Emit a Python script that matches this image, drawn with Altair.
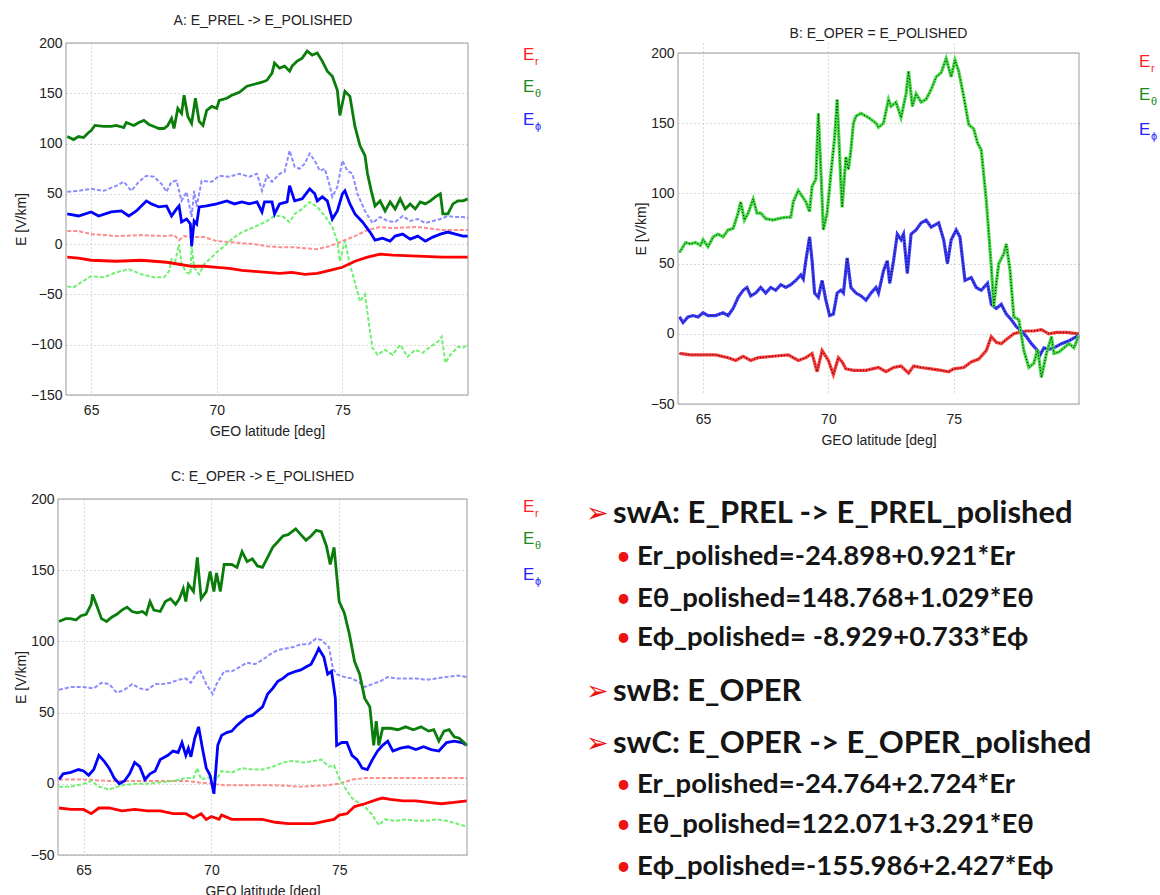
import altair as alt
import pandas as pd

# ---------------- data ----------------
LAT_DOMAIN = [64, 80]
LAT_TICKS = [65, 70, 75]

# Panel A: E_PREL (dashed, light) and polished (solid)
A_Eth_pol = [(64.05,107),(64.3,104),(64.5,107),(64.7,106),(64.9,111),(65.0,113),(65.15,118),(65.5,117),(65.8,117),
             (66.0,118),(66.3,116),(66.4,121),(66.7,118),(66.9,121),(67.1,123),(67.3,119),(67.5,117),(67.7,115),
             (67.9,115),(68.05,118),(68.2,125),(68.3,115),(68.45,135),(68.6,130),(68.7,148),(68.85,127),(69.0,120),
             (69.15,145),(69.3,122),(69.45,118),(69.6,133),(69.8,137),(70.0,135),(70.1,143),(70.4,145),(70.6,148),
             (70.9,151),(71.2,157),(71.5,159),(71.8,161),(72.0,163),(72.2,170),(72.3,180),(72.5,175),(72.7,177),
             (72.9,172),(73.0,177),(73.2,182),(73.4,185),(73.6,192),(73.8,188),(74.0,190),(74.2,182),(74.4,172),
             (74.6,167),(74.8,153),(74.9,128),(75.1,152),(75.3,147),(75.5,117),(75.7,98),(75.9,88),(76.0,70),
             (76.15,53),(76.3,38),(76.5,43),(76.7,33),(76.9,42),(77.1,35),(77.3,45),(77.5,35),(77.7,40),(77.9,35),
             (78.1,42),(78.3,40),(78.5,43),(78.7,47),(78.9,50),(79.0,30),(79.2,30),(79.4,40),(79.6,43),(79.8,43),(80.0,45)]
A_Eph_pol = [(64.05,30),(64.5,28),(65.0,32),(65.3,28),(65.8,32),(66.2,33),(66.5,28),(66.8,33),(67.0,38),(67.2,43),
             (67.4,40),(67.7,37),(68.0,38),(68.2,28),(68.4,35),(68.5,38),(68.6,22),(68.8,25),(68.95,20),(69.0,-2),
             (69.1,23),(69.2,20),(69.3,37),(69.6,38),(70.0,40),(70.4,43),(70.7,40),(71.0,42),(71.3,40),(71.6,42),
             (71.8,32),(71.9,42),(72.2,42),(72.3,30),(72.5,40),(72.8,42),(72.9,58),(73.1,43),(73.4,45),(73.7,55),
             (73.9,50),(74.0,43),(74.2,47),(74.4,43),(74.6,25),(74.8,33),(75.0,50),(75.1,53),(75.3,40),(75.5,30),
             (75.8,22),(76.1,12),(76.3,4),(76.6,6),(76.9,3),(77.1,8),(77.4,10),(77.7,5),(78.0,8),(78.3,3),(78.6,7),
             (78.9,10),(79.2,12),(79.5,10),(79.8,8),(80.0,8)]
A_Er_pol = [(64.05,-13),(64.5,-14),(65.0,-16),(66.0,-17),(67.0,-16),(68.0,-18),(68.5,-20),(69.0,-22),(69.5,-22),
            (70.0,-23),(70.5,-24),(71.0,-26),(71.5,-27),(72.0,-28),(72.5,-29),(73.0,-28),(73.5,-30),(74.0,-29),
            (74.5,-26),(75.0,-23),(75.5,-17),(76.0,-13),(76.5,-10),(77.0,-11),(78.0,-12),(79.0,-13),(80.0,-13)]
A_Eth_prel = [(64.05,-42),(64.3,-43),(64.6,-38),(65.0,-32),(65.5,-33),(66.0,-28),(66.5,-25),(67.0,-30),(67.5,-33),
              (67.9,-33),(68.1,-27),(68.2,-15),(68.35,-17),(68.5,0),(68.6,-20),(68.8,-28),(68.95,-30),(69.0,-2),
              (69.1,-23),(69.3,-30),(69.5,-20),(69.8,-13),(70.0,-8),(70.3,-2),(70.6,5),(71.0,12),(71.5,17),(72.0,23),
              (72.3,28),(72.6,28),(72.9,22),(73.1,30),(73.4,35),(73.7,42),(74.0,37),(74.3,28),(74.6,17),(74.8,3),
              (74.9,-17),(75.1,3),(75.3,-20),(75.5,-38),(75.7,-57),(75.9,-50),(76.1,-87),(76.2,-103),(76.4,-110),
              (76.7,-105),(77.0,-110),(77.3,-100),(77.6,-112),(77.9,-105),(78.2,-108),(78.5,-102),(78.8,-97),
              (78.95,-92),(79.1,-118),(79.3,-110),(79.6,-102),(79.8,-103),(80.0,-100)]
A_Eph_prel = [(64.05,52),(64.5,53),(65.0,55),(65.5,53),(66.0,58),(66.3,62),(66.6,53),(66.9,62),(67.2,68),(67.5,67),
              (67.8,60),(68.0,52),(68.2,62),(68.4,63),(68.6,43),(68.8,52),(69.0,27),(69.1,53),(69.2,37),(69.4,63),
              (69.8,62),(70.1,68),(70.5,67),(70.9,70),(71.3,67),(71.6,70),(71.8,53),(72.0,68),(72.2,62),(72.5,70),
              (72.7,72),(72.9,93),(73.1,77),(73.3,75),(73.5,80),(73.7,90),(73.9,83),(74.1,73),(74.3,75),(74.5,58),
              (74.6,47),(74.8,57),(75.0,83),(75.2,73),(75.4,70),(75.6,50),(75.9,33),(76.2,21),(76.5,27),(76.8,23),
              (77.1,22),(77.4,28),(77.7,23),(78.0,25),(78.3,21),(78.6,23),(78.9,25),(79.2,28),(79.5,27),(79.8,27),(80.0,26)]
A_Er_prel = [(64.05,13),(64.5,13),(65.0,10),(66.0,8),(67.0,9),(68.0,8),(68.3,9),(68.5,4),(68.7,8),(69.0,7),(69.5,7),
             (70.0,3),(70.5,2),(71.0,1),(71.5,0),(72.0,-2),(72.5,-3),(73.0,-3),(73.5,-4),(74.0,-5),(74.5,-2),
             (75.0,3),(75.5,8),(76.0,14),(76.5,17),(77.0,16),(78.0,17),(79.0,14),(80.0,14)]

# Panel B: E_OPER = E_POLISHED
B_Eth = [(64.06,58),(64.2,62),(64.3,65),(64.5,64),(64.7,65),(64.9,63),(65.0,67),(65.2,62),(65.4,69),(65.6,71),
         (65.8,69),(66.0,74),(66.2,75),(66.4,86),(66.5,94),(66.65,81),(66.8,86),(67.0,96),(67.15,86),(67.3,86),
         (67.5,82),(67.8,81),(68.0,82),(68.3,83),(68.5,83),(68.6,94),(68.8,102),(68.95,98),(69.1,94),(69.25,87),
         (69.35,105),(69.5,110),(69.6,157),(69.7,117),(69.8,74),(69.95,86),(70.1,114),(70.25,140),(70.35,167),
         (70.5,107),(70.55,90),(70.7,126),(70.8,117),(70.9,131),(71.0,150),(71.1,155),(71.3,157),(71.6,154),
         (71.9,150),(72.0,147),(72.2,150),(72.4,167),(72.5,162),(72.7,165),(72.9,154),(73.1,171),(73.2,187),
         (73.35,162),(73.5,171),(73.7,165),(73.9,167),(74.1,174),(74.3,183),(74.5,186),(74.7,196),(74.9,183),
         (75.05,195),(75.2,187),(75.4,169),(75.6,149),(75.8,146),(75.95,136),(76.1,131),(76.3,95),(76.5,48),
         (76.6,19),(76.7,36),(76.8,50),(77.0,57),(77.1,64),(77.25,45),(77.4,12),(77.6,10),(77.8,-12),(78.0,-24),
         (78.2,-21),(78.35,-11),(78.5,-31),(78.7,-14),(78.9,-2),(79.0,-14),(79.2,-13),(79.4,-10),(79.6,-7),
         (79.8,-10),(80.0,-1)]
B_Eph = [(64.06,12),(64.2,8),(64.4,12),(64.6,13),(64.8,12),(65.0,15),(65.2,13),(65.5,13),(65.8,15),(66.0,13),
         (66.2,18),(66.4,26),(66.6,31),(66.75,33),(66.9,27),(67.1,29),(67.3,33),(67.5,29),(67.7,33),(67.9,31),
         (68.1,35),(68.3,33),(68.5,35),(68.7,38),(68.9,42),(69.0,39),(69.1,52),(69.25,69),(69.35,52),(69.45,29),
         (69.6,26),(69.75,38),(69.9,24),(70.05,13),(70.2,14),(70.35,29),(70.5,31),(70.6,29),(70.75,54),(70.9,33),
         (71.1,29),(71.3,27),(71.5,24),(71.7,29),(71.9,33),(72.0,29),(72.2,45),(72.35,52),(72.45,36),(72.6,52),
         (72.75,71),(72.9,67),(73.0,71),(73.15,43),(73.3,71),(73.5,74),(73.7,79),(73.9,81),(74.1,76),(74.4,79),
         (74.6,67),(74.75,50),(74.9,67),(75.1,74),(75.25,69),(75.45,38),(75.7,40),(75.9,33),(76.1,31),(76.35,36),
         (76.5,21),(76.7,18),(76.9,21),(77.1,14),(77.3,10),(77.5,5),(77.7,2),(77.9,-2),(78.1,-7),(78.3,-11),
         (78.45,-15),(78.6,-10),(78.8,-11),(79.0,-10),(79.3,-7),(79.6,-5),(80.0,-1)]
B_Er = [(64.06,-14),(64.5,-15),(65.0,-15),(65.5,-15),(66.0,-17),(66.3,-19),(66.6,-16),(66.9,-19),(67.2,-17),
        (67.8,-16),(68.4,-15),(68.8,-19),(69.1,-17),(69.35,-14),(69.55,-27),(69.75,-12),(70.0,-19),(70.2,-29),
        (70.4,-17),(70.55,-20),(70.7,-25),(71.0,-26),(71.5,-26),(72.0,-24),(72.3,-27),(72.6,-24),(72.9,-23),
        (73.2,-28),(73.4,-23),(73.7,-24),(74.1,-25),(74.5,-26),(74.8,-27),(75.0,-25),(75.4,-24),(75.7,-20),
        (76.0,-18),(76.3,-12),(76.5,-2),(76.7,-6),(76.9,-7),(77.1,-4),(77.4,0),(77.6,1),(77.9,2),(78.2,2),
        (78.5,3),(78.8,0),(79.1,1),(79.5,1),(80.0,0)]

# Panel C: E_OPER (dashed, light) and polished (solid)
C_Eth_pol = [(64.04,114),(64.3,116),(64.5,116),(64.7,115),(64.9,118),(65.1,119),(65.3,126),(65.35,133),(65.5,126),
             (65.7,116),(65.9,114),(66.1,117),(66.3,119),(66.5,122),(66.7,124),(66.9,121),(67.1,120),(67.3,121),
             (67.45,119),(67.6,128),(67.75,122),(68.0,121),(68.2,128),(68.4,130),(68.6,126),(68.75,130),(68.9,137),
             (69.0,128),(69.1,140),(69.3,135),(69.45,159),(69.6,130),(69.8,135),(69.95,149),(70.1,135),(70.2,148),
             (70.35,135),(70.5,154),(70.8,154),(71.0,152),(71.2,163),(71.4,156),(71.6,158),(71.8,153),(72.0,152),
             (72.2,159),(72.4,166),(72.6,170),(72.8,174),(73.0,175),(73.3,179),(73.5,175),(73.7,171),(73.9,174),
             (74.1,178),(74.3,177),(74.5,167),(74.65,154),(74.8,166),(75.0,128),(75.2,120),(75.4,105),(75.6,86),
             (75.8,77),(76.0,60),(76.2,54),(76.35,27),(76.45,44),(76.55,27),(76.7,39),(77.0,39),(77.3,38),(77.6,40),
             (77.9,38),(78.2,40),(78.5,37),(78.7,38),(78.9,30),(79.1,37),(79.3,38),(79.5,33),(79.7,32),(80.0,27)]
C_Eph_pol = [(64.04,3),(64.2,7),(64.5,8),(64.8,10),(65.0,9),(65.2,6),(65.4,10),(65.6,20),(65.8,16),(66.0,11),
             (66.2,4),(66.4,0),(66.6,2),(66.8,7),(67.0,15),(67.2,12),(67.4,3),(67.6,7),(67.8,9),(68.0,17),(68.3,20),
             (68.5,23),(68.7,22),(68.85,29),(69.0,20),(69.1,25),(69.2,19),(69.35,32),(69.5,40),(69.65,25),(69.8,11),
             (69.95,6),(70.1,-7),(70.25,27),(70.4,34),(70.6,36),(70.8,37),(71.0,41),(71.2,44),(71.4,47),(71.6,48),
             (71.8,51),(72.0,54),(72.2,63),(72.4,67),(72.6,72),(72.8,74),(73.0,77),(73.3,79),(73.5,80),(73.7,82),
             (73.9,84),(74.1,91),(74.2,95),(74.4,89),(74.55,77),(74.7,79),(74.85,60),(74.9,27),(75.1,29),(75.3,29),
             (75.5,20),(75.7,17),(75.9,11),(76.1,10),(76.3,17),(76.5,23),(76.7,27),(76.9,30),(77.1,23),(77.4,25),
             (77.7,26),(78.0,24),(78.3,26),(78.6,24),(78.9,23),(79.2,29),(79.5,30),(79.8,29),(80.0,27)]
C_Er_pol = [(64.04,-17),(64.5,-18),(65.0,-18),(65.3,-21),(65.6,-17),(66.0,-17),(66.5,-19),(67.0,-18),(67.5,-19),
            (68.0,-19),(68.5,-21),(69.0,-21),(69.3,-24),(69.6,-21),(69.8,-25),(70.0,-23),(70.3,-25),(70.4,-22),
            (70.8,-25),(71.2,-25),(71.6,-25),(72.0,-25),(72.5,-27),(73.0,-28),(73.5,-28),(74.0,-28),(74.5,-26),
            (74.8,-25),(75.0,-22),(75.3,-21),(75.6,-16),(76.0,-14),(76.5,-11),(76.7,-10),(77.0,-11),(77.5,-12),
            (78.0,-12),(78.5,-13),(79.0,-14),(79.5,-13),(80.0,-12)]
C_Eth_oper = [(64.04,-2),(64.5,-2),(65.0,0),(65.3,2),(65.6,-2),(66.0,-4),(66.5,-1),(67.0,0),(67.5,0),(68.0,1),
              (68.5,2),(69.0,4),(69.3,4),(69.45,11),(69.6,3),(69.8,4),(70.0,5),(70.2,3),(70.4,9),(70.8,8),(71.2,11),
              (71.6,10),(72.0,10),(72.4,12),(72.8,15),(73.2,16),(73.6,15),(74.0,16),(74.3,17),(74.6,12),(74.8,13),
              (75.0,4),(75.2,-2),(75.5,-10),(75.8,-14),(76.0,-16),(76.3,-22),(76.55,-29),(76.8,-25),(77.2,-26),
              (77.6,-25),(78.0,-26),(78.4,-26),(78.8,-25),(79.2,-26),(79.6,-28),(80.0,-30)]
C_Eph_oper = [(64.04,66),(64.5,68),(65.0,68),(65.4,67),(65.7,71),(66.0,70),(66.3,64),(66.6,66),(66.9,70),(67.2,67),
              (67.5,66),(67.8,70),(68.1,70),(68.4,71),(68.7,73),(69.0,74),(69.2,71),(69.4,77),(69.55,80),(69.8,70),
              (70.05,63),(70.2,70),(70.5,79),(70.8,79),(71.1,82),(71.4,85),(71.7,84),(72.0,87),(72.3,91),(72.6,94),
              (72.9,95),(73.2,96),(73.5,98),(73.8,98),(74.1,102),(74.3,101),(74.6,96),(74.75,81),(74.9,77),(75.2,75),
              (75.5,74),(75.8,71),(76.0,68),(76.3,70),(76.6,72),(76.9,75),(77.2,74),(77.6,74),(78.0,74),(78.4,73),
              (78.8,74),(79.2,75),(79.6,76),(80.0,75)]
C_Er_oper = [(64.04,3),(65.0,3),(66.0,2),(67.0,2),(68.0,2),(69.0,2),(70.0,0),(70.5,-1),(71.5,-1),(72.5,-1),
             (73.5,-2),(74.5,-1),(75.0,0),(75.5,3),(76.0,4),(76.5,4),(77.5,4),(78.5,4),(79.5,4),(80.0,4)]

TITLES = ["A: E_PREL -> E_POLISHED", "B: E_OPER = E_POLISHED", "C: E_OPER -> E_POLISHED"]
X_TITLE = "GEO latitude [deg]"
Y_TITLE = "E [V/km]"
LEG_SUBS = ["r", "\u03b8", "\u03d5"]

HEADERS = ["swA: E_PREL -> E_PREL_polished", "swB: E_OPER", "swC: E_OPER -> E_OPER_polished"]
BULLETS_A = ["Er_polished=-24.898+0.921*Er", "E\u03b8_polished=148.768+1.029*E\u03b8",
             "E\u03d5_polished= -8.929+0.733*E\u03d5"]
BULLETS_C = ["Er_polished=-24.764+2.724*Er", "E\u03b8_polished=122.071+3.291*E\u03b8",
             "E\u03d5_polished=-155.986+2.427*E\u03d5"]

# ---------------- styling ----------------
FONT = "Liberation Sans"
LEG_COLORS = ["#ff2222", "#1e8c1e", "#2222ff"]
ONE = pd.DataFrame({"k": [0]})
BOX = "#9a9a9a"


def enc(ydom, yvals, xrange, yrange, yoffset):
    xs = dict(scale=alt.Scale(domain=LAT_DOMAIN, range=xrange, nice=False, zero=False),
              axis=alt.Axis(values=LAT_TICKS, title=X_TITLE, grid=True, gridDash=[1, 3], gridColor="#b4b4b4",
                            domain=False, ticks=False, labelFontSize=14, titleFontSize=14, labelFont=FONT,
                            titleFont=FONT, labelColor="#222", titleColor="#222", titleFontWeight="normal",
                            labelPadding=8, titlePadding=7))
    ys = dict(scale=alt.Scale(domain=ydom, range=yrange, nice=False, zero=False),
              axis=alt.Axis(values=yvals, title=Y_TITLE, grid=True, gridDash=[1, 3], gridColor="#b4b4b4",
                            domain=False, ticks=False, labelFontSize=14, titleFontSize=14, labelFont=FONT,
                            titleFont=FONT, labelColor="#222", titleColor="#222", titleFontWeight="normal",
                            labelPadding=4, titlePadding=2, offset=yoffset))
    return xs, ys


def panel(series, w, h, ydom, yvals, xrange, yrange, yoffset, leg_x, leg_y, title):
    xs, ys = enc(ydom, yvals, xrange, yrange, yoffset)
    layers = []
    for pairs, color, width, dash in series:
        kw = dict(color=color, strokeWidth=width, interpolate="linear")
        if dash:
            kw["strokeDash"] = dash
        layers.append(alt.Chart(pd.DataFrame(pairs, columns=["lat", "E"])).mark_line(**kw).encode(
            x=alt.X("lat:Q", **xs), y=alt.Y("E:Q", **ys)))
    # plot frame, drawn through the scales
    layers.append(alt.Chart(ONE).mark_rect(filled=False, stroke=BOX, strokeWidth=1).encode(
        x=alt.X(datum=LAT_DOMAIN[0], **xs), x2=alt.X2(datum=LAT_DOMAIN[1]),
        y=alt.Y(datum=ydom[0], **ys), y2=alt.Y2(datum=ydom[1])))
    for sub, col, yy in zip(LEG_SUBS, LEG_COLORS, leg_y):
        layers.append(alt.Chart(ONE).mark_text(text="E", color=col, fontSize=17, font=FONT, align="left",
                                               baseline="middle").encode(x=alt.value(leg_x), y=alt.value(yy)))
        layers.append(alt.Chart(ONE).mark_text(text=sub, color=col, fontSize=11, font=FONT, align="left",
                                               baseline="middle").encode(x=alt.value(leg_x + 12),
                                                                         y=alt.value(yy + 7)))
    return alt.layer(*layers).properties(width=w, height=h, title=title)


def title(txt, dy=0):
    return alt.TitleParams(text=txt, fontSize=14, font=FONT, fontWeight="normal", color="#222", anchor="middle",
                           offset=8, dy=dy)


LIGHT_R, LIGHT_B, LIGHT_G = "#ff8c8c", "#8c8cff", "#70f070"
SOLID_R, SOLID_B, SOLID_G = "#ff0000", "#0000ff", "#0a7d0a"
DASH = [4, 2]

# Panel A (frame starts 8 px right of the column origin)
chartA = panel([(A_Er_prel, LIGHT_R, 2, DASH), (A_Eph_prel, LIGHT_B, 2, DASH), (A_Eth_prel, LIGHT_G, 2, DASH),
                (A_Er_pol, SOLID_R, 2.8, None), (A_Eph_pol, SOLID_B, 2.8, None), (A_Eth_pol, SOLID_G, 2.8, None)],
               410, 352, [-150, 200], [-150, -100, -50, 0, 50, 100, 150, 200], [8, 410], [352, 0], -8,
               465, [12, 44, 77], title(TITLES[0]))

# Panel B (frame starts 10 px below the row origin)
seriesB = []
for pairs, col in [(B_Er, "#ff3c3c"), (B_Eph, "#3c3cff"), (B_Eth, "#46dc46")]:
    seriesB.append((pairs, col, 3.2, None))
    seriesB.append((pairs, "#000000", 1, [1, 2]))
chartB = panel(seriesB, 401, 361, [-50, 200], [-50, 0, 50, 100, 150, 200], [0, 401], [361, 10], 0,
               461, [19, 52, 87], title(TITLES[1], dy=6))

# Panel C
chartC = panel([(C_Er_oper, LIGHT_R, 2, DASH), (C_Eph_oper, LIGHT_B, 2, DASH), (C_Eth_oper, LIGHT_G, 2, DASH),
                (C_Er_pol, SOLID_R, 2.8, None), (C_Eph_pol, SOLID_B, 2.8, None), (C_Eth_pol, SOLID_G, 2.8, None)],
               409, 356, [-50, 200], [-50, 0, 50, 100, 150, 200], [0, 409], [356, 0], 0,
               465, [8, 40, 76], title(TITLES[2]))

# Text block
TFONT = "Lato"
text_layers = []
rows = [("h", HEADERS[0], 15), ("b", BULLETS_A[0], 58), ("b", BULLETS_A[1], 100), ("b", BULLETS_A[2], 139),
        ("h", HEADERS[1], 193), ("h", HEADERS[2], 245), ("b", BULLETS_C[0], 286), ("b", BULLETS_C[1], 326),
        ("b", BULLETS_C[2], 368)]
for kind, txt, yy in rows:
    if kind == "h":
        text_layers.append(alt.Chart(ONE).mark_text(text="\u27a2", color="#ee1111", fontSize=27, font="DejaVu Sans",
                                                    align="left", baseline="middle")
                           .encode(x=alt.value(0), y=alt.value(yy)))
        text_layers.append(alt.Chart(ONE).mark_text(text=txt, color="#151515", fontSize=31, font=TFONT,
                                                    fontWeight="bold", align="left", baseline="middle")
                           .encode(x=alt.value(27), y=alt.value(yy)))
    else:
        text_layers.append(alt.Chart(ONE).mark_text(text="\u2022", color="#ee1111", fontSize=26, font=TFONT,
                                                    align="left", baseline="middle")
                           .encode(x=alt.value(30), y=alt.value(yy)))
        text_layers.append(alt.Chart(ONE).mark_text(text=txt, color="#151515", fontSize=27.5, font=TFONT,
                                                    fontWeight="bold", align="left", baseline="middle")
                           .encode(x=alt.value(51), y=alt.value(yy)))
chartT = alt.layer(*text_layers).properties(width=480, height=380)

row1 = alt.hconcat(chartA, chartB, spacing=91)
row2 = alt.hconcat(chartC, chartT, spacing=43)
chart = alt.vconcat(row1, row2, spacing=21).properties(
    padding={"left": 13, "top": 13, "right": 0, "bottom": 0}, background="white"
).configure_view(stroke="transparent")

chart.save("out.html", embed_options={"renderer": "svg", "actions": False})
